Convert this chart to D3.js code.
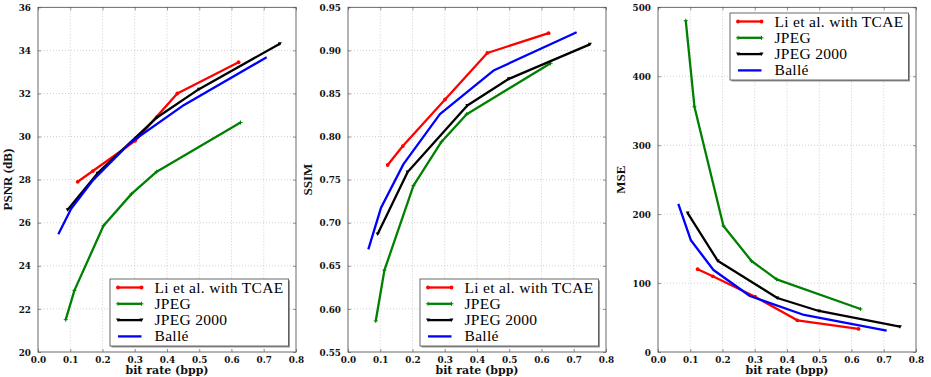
<!DOCTYPE html>
<html>
<head>
<meta charset="utf-8">
<script src="https://cdn.jsdelivr.net/npm/d3@7"></script>
<style>
  html, body { margin: 0; padding: 0; background: #fff; }
  svg { display: block; }
</style>
</head>
<body>
<div id="chart"></div>
<script>
// bit rates (bpp) per method
const xLi = [0.123, 0.170, 0.301, 0.432, 0.622];
const xJpeg = [0.086, 0.113, 0.203, 0.290, 0.368, 0.628];
const xJ2k = [0.092, 0.185, 0.370, 0.499, 0.750];
const xBalle = [0.063, 0.102, 0.172, 0.285, 0.453, 0.709];

// PSNR (dB)
const psnrLi = [27.9, 28.4, 29.8, 32.0, 33.45];
const psnrJpeg = [21.5, 22.86, 25.86, 27.34, 28.37, 30.65];
const psnrJ2k = [26.6, 28.3, 30.9, 32.2, 34.31];
const psnrBalle = [25.47, 26.63, 28.0, 29.7, 31.47, 33.68];

// SSIM
const ssimLi = [0.767, 0.789, 0.843, 0.897, 0.920];
const ssimJpeg = [0.586, 0.645, 0.743, 0.794, 0.826, 0.885];
const ssimJ2k = [0.687, 0.759, 0.836, 0.867, 0.907];
const ssimBalle = [0.669, 0.717, 0.768, 0.826, 0.877, 0.921];

// MSE
const mseLi = [120, 109.8, 80.2, 46, 33.4];
const mseJpeg = [480.6, 355.8, 182.8, 132, 105.4, 62.4];
const mseJ2k = [201.6, 132.5, 78.3, 59.5, 36.7];
const mseBalle = [214.7, 162, 119, 81.2, 53.7, 30.9];

const seriesNames = ["Li et al. with TCAE", "JPEG", "JPEG 2000", "Ballé"];
const seriesColors = ["#ff0000", "#008000", "#000000", "#0000ff"];
const seriesMarkers = ["dot", "plus", "tri", "none"];
const seriesX = [xLi, xJpeg, xJ2k, xBalle];

const xTicks = [0.0, 0.1, 0.2, 0.3, 0.4, 0.5, 0.6, 0.7, 0.8];
const psnrTicks = [20, 22, 24, 26, 28, 30, 32, 34, 36];
const ssimTicks = [0.55, 0.60, 0.65, 0.70, 0.75, 0.80, 0.85, 0.90, 0.95];
const mseTicks = [0, 100, 200, 300, 400, 500];

const panels = [
  { left: 38, label: "PSNR (dB)", labelX: -26, domain: [20, 36], ticks: psnrTicks, fmt: d3.format("d"),
    ys: [psnrLi, psnrJpeg, psnrJ2k, psnrBalle], legend: { x: 72, y: 279 } },
  { left: 348, label: "SSIM", labelX: -36, domain: [0.55, 0.95], ticks: ssimTicks, fmt: d3.format(".2f"),
    ys: [ssimLi, ssimJpeg, ssimJ2k, ssimBalle], legend: { x: 72, y: 279 } },
  { left: 658, label: "MSE", labelX: -33, domain: [0, 500], ticks: mseTicks, fmt: d3.format("d"),
    ys: [mseLi, mseJpeg, mseJ2k, mseBalle], legend: { x: 72, y: 13 } }
];

const W = 931, H = 377;
const plotW = 258, plotTop = 7.3, plotBottom = 352;
const tickFont = "'DejaVu Serif Condensed', 'DejaVu Serif', serif";
const textFont = "'Liberation Serif', 'DejaVu Serif', serif";

const svg = d3.select("#chart").append("svg")
  .attr("width", W).attr("height", H);

function drawMarker(g, kind, x, y, color) {
  if (kind === "dot") {
    g.append("circle").attr("cx", x).attr("cy", y).attr("r", 1.9).attr("fill", color);
  } else if (kind === "plus") {
    g.append("path").attr("d", `M${x - 2},${y}H${x + 2}M${x},${y - 2}V${y + 2}`)
      .attr("stroke", color).attr("stroke-width", 1);
  } else if (kind === "tri") {
    g.append("path").attr("d", `M${x - 2},${y - 1.5}L${x + 2},${y - 1.5}L${x},${y + 2}Z`)
      .attr("fill", color);
  }
}

panels.forEach((p) => {
  const g = svg.append("g").attr("transform", `translate(${p.left},0)`);
  const x = d3.scaleLinear().domain([0, 0.8]).range([0, plotW]);
  const y = d3.scaleLinear().domain(p.domain).range([plotBottom, plotTop]);

  // grid
  const grid = g.append("g");
  grid.selectAll("line.vx").data(xTicks.slice(1, -1)).enter().append("line")
    .attr("x1", (d) => x(d)).attr("x2", (d) => x(d))
    .attr("y1", plotTop).attr("y2", plotBottom)
    .attr("stroke", "#b0b0b0").attr("stroke-width", 0.6).attr("stroke-dasharray", "1,2");
  grid.selectAll("line.hy").data(p.ticks.slice(1, -1)).enter().append("line")
    .attr("x1", 0).attr("x2", plotW)
    .attr("y1", (d) => y(d)).attr("y2", (d) => y(d))
    .attr("stroke", "#b0b0b0").attr("stroke-width", 0.6).attr("stroke-dasharray", "1,2");

  // axes (ticks point inward, also on top and right like classic matplotlib)
  const xAxis = g.append("g").attr("transform", `translate(0,${plotBottom})`)
    .call(d3.axisBottom(x).tickValues(xTicks).tickFormat(d3.format(".1f")).tickSize(3).tickPadding(1));
  const yAxis = g.append("g")
    .call(d3.axisLeft(y).tickValues(p.ticks).tickFormat(p.fmt).tickSize(3).tickPadding(4));
  const xTop = g.append("g").attr("transform", `translate(0,${plotTop})`)
    .call(d3.axisTop(x).tickValues(xTicks).tickFormat("").tickSize(-3));
  const yRight = g.append("g").attr("transform", `translate(${plotW},0)`)
    .call(d3.axisRight(y).tickValues(p.ticks).tickFormat("").tickSize(-3));
  [xAxis, yAxis, xTop, yRight].forEach((a) => {
    a.select(".domain").remove();
    a.selectAll(".tick line").attr("stroke", "#555").attr("stroke-width", 0.6);
    a.selectAll(".tick text").attr("font-family", tickFont).attr("font-weight", "bold")
      .attr("font-size", 9.8).attr("fill", "#111");
  });
  xAxis.selectAll(".tick line").attr("y2", -3);
  yAxis.selectAll(".tick line").attr("x2", 3);

  // lines
  const line = d3.line().x((d) => x(d[0])).y((d) => y(d[1]));
  p.ys.forEach((vals, i) => {
    const pts = seriesX[i].map((xv, k) => [xv, vals[k]]);
    g.append("path").datum(pts).attr("d", line)
      .attr("fill", "none").attr("stroke", seriesColors[i]).attr("stroke-width", 2.3)
      .attr("stroke-linejoin", "round");
    pts.forEach((pt) => drawMarker(g, seriesMarkers[i], x(pt[0]), y(pt[1]), seriesColors[i]));
  });

  // frame
  g.append("rect").attr("x", 0).attr("y", plotTop).attr("width", plotW).attr("height", plotBottom - plotTop)
    .attr("fill", "none").attr("stroke", "#444").attr("stroke-width", 0.8);

  // legend
  const lx = p.legend.x, ly = p.legend.y, lw = 178.5, lh = 67;
  g.append("rect").attr("x", lx + 1.5).attr("y", ly + 1.5).attr("width", lw).attr("height", lh)
    .attr("fill", "#999");
  g.append("rect").attr("x", lx).attr("y", ly).attr("width", lw).attr("height", lh)
    .attr("fill", "#fff").attr("stroke", "#444").attr("stroke-width", 0.8);
  seriesNames.forEach((name, i) => {
    const ry = ly + 8.5 + i * 16.3;
    g.append("line").attr("x1", lx + 8).attr("x2", lx + 31.5).attr("y1", ry).attr("y2", ry)
      .attr("stroke", seriesColors[i]).attr("stroke-width", 2.3);
    drawMarker(g, seriesMarkers[i], lx + 8, ry, seriesColors[i]);
    drawMarker(g, seriesMarkers[i], lx + 31.5, ry, seriesColors[i]);
    g.append("text").attr("x", lx + 44.5).attr("y", ry + 5)
      .attr("font-family", textFont).attr("font-size", 15.5).attr("letter-spacing", 0.3)
      .attr("fill", "#000").text(name);
  });

  // axis labels
  g.append("text").attr("x", plotW / 2).attr("y", 374)
    .attr("text-anchor", "middle").attr("font-family", "'DejaVu Serif', serif").attr("font-weight", "bold")
    .attr("font-size", 11).attr("fill", "#111").text("bit rate (bpp)");
  g.append("text")
    .attr("transform", `translate(${p.labelX},${(plotTop + plotBottom) / 2}) rotate(-90)`)
    .attr("text-anchor", "middle").attr("font-family", textFont).attr("font-weight", "bold")
    .attr("font-size", 13).attr("fill", "#111").text(p.label);
});
</script>
</body>
</html>
